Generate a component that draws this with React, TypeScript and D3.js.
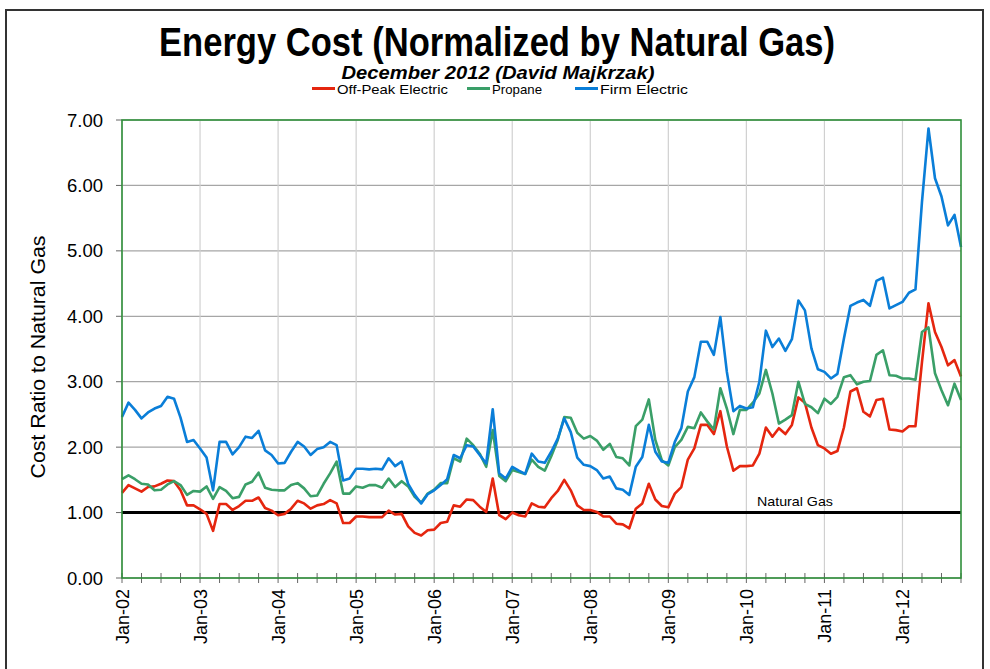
import React from "react";
import * as d3 from "d3";

// monthly ratios, Jan-02 .. Oct-12
const offPeak = [
  1.30, 1.42, 1.37, 1.32, 1.39, 1.40, 1.44, 1.49, 1.48, 1.34, 1.11, 1.11,
  1.05, 0.98, 0.72, 1.13, 1.13, 1.04, 1.10, 1.18, 1.18, 1.23, 1.07, 1.03,
  0.96, 0.98, 1.06, 1.18, 1.14, 1.06, 1.11, 1.13, 1.19, 1.14, 0.84, 0.84,
  0.94, 0.94, 0.93, 0.93, 0.93, 1.03, 0.97, 0.98, 0.79, 0.69, 0.65, 0.73,
  0.74, 0.84, 0.86, 1.11, 1.09, 1.20, 1.19, 1.09, 1.01, 1.52, 0.96, 0.90,
  1.00, 0.96, 0.94, 1.14, 1.09, 1.08, 1.22, 1.33, 1.50, 1.34, 1.11, 1.04,
  1.04, 1.01, 0.94, 0.94, 0.83, 0.82, 0.76, 1.06, 1.14, 1.44, 1.20, 1.10,
  1.08, 1.29, 1.39, 1.81, 1.98, 2.34, 2.34, 2.20, 2.55, 2.01, 1.64, 1.71,
  1.71, 1.72, 1.90, 2.30, 2.16, 2.29, 2.20, 2.34, 2.76, 2.68, 2.30, 2.03,
  1.98, 1.90, 1.94, 2.30, 2.85, 2.90, 2.54, 2.47, 2.72, 2.74, 2.27, 2.26,
  2.24, 2.32, 2.32, 3.30, 4.20, 3.76, 3.53, 3.25, 3.33, 3.08,
];

const propane = [
  1.51, 1.57, 1.51, 1.44, 1.43, 1.34, 1.35, 1.43, 1.48, 1.42, 1.27, 1.33,
  1.32, 1.40, 1.21, 1.39, 1.33, 1.22, 1.24, 1.43, 1.47, 1.61, 1.38, 1.35,
  1.34, 1.34, 1.42, 1.45, 1.37, 1.25, 1.26, 1.44, 1.60, 1.78, 1.29, 1.29,
  1.40, 1.38, 1.42, 1.42, 1.38, 1.52, 1.39, 1.48, 1.40, 1.24, 1.15, 1.29,
  1.35, 1.45, 1.45, 1.83, 1.78, 2.13, 2.03, 1.90, 1.70, 2.26, 1.56, 1.48,
  1.65, 1.62, 1.59, 1.81, 1.70, 1.64, 1.86, 2.11, 2.46, 2.45, 2.22, 2.13,
  2.17, 2.10, 1.96, 2.05, 1.85, 1.83, 1.72, 2.32, 2.42, 2.73, 2.11, 1.80,
  1.72, 2.00, 2.11, 2.31, 2.29, 2.53, 2.39, 2.27, 2.90, 2.59, 2.20, 2.57,
  2.57, 2.68, 2.82, 3.18, 2.82, 2.36, 2.42, 2.49, 3.00, 2.66, 2.61, 2.52,
  2.74, 2.66, 2.77, 3.07, 3.10, 2.96, 3.00, 3.01, 3.41, 3.48, 3.10, 3.09,
  3.05, 3.05, 3.03, 3.76, 3.83, 3.13, 2.87, 2.64, 2.97, 2.72,
];

const firmElectric = [
  2.46, 2.68, 2.57, 2.44, 2.53, 2.59, 2.63, 2.77, 2.74, 2.45, 2.08, 2.11,
  1.98, 1.84, 1.34, 2.08, 2.08, 1.89, 2.00, 2.16, 2.14, 2.25, 1.95, 1.88,
  1.75, 1.76, 1.93, 2.08, 2.01, 1.88, 1.97, 2.00, 2.08, 2.03, 1.49, 1.52,
  1.67, 1.67, 1.66, 1.67, 1.66, 1.83, 1.71, 1.78, 1.44, 1.27, 1.14, 1.28,
  1.34, 1.42, 1.51, 1.88, 1.83, 2.03, 2.01, 1.88, 1.75, 2.58, 1.60, 1.52,
  1.70, 1.64, 1.59, 1.90, 1.78, 1.76, 1.93, 2.13, 2.44, 2.23, 1.84, 1.73,
  1.71, 1.65, 1.52, 1.55, 1.37, 1.35, 1.27, 1.70, 1.85, 2.34, 1.93, 1.78,
  1.76, 2.08, 2.29, 2.85, 3.07, 3.61, 3.61, 3.41, 3.99, 3.15, 2.55, 2.63,
  2.59, 2.61, 3.00, 3.78, 3.53, 3.66, 3.47, 3.65, 4.24, 4.09, 3.51, 3.19,
  3.15, 3.05, 3.12, 3.66, 4.16, 4.21, 4.25, 4.16, 4.54, 4.59, 4.12, 4.17,
  4.22, 4.36, 4.41, 5.75, 6.87, 6.11, 5.83, 5.39, 5.55, 5.06,
];

const yearLabels = ["Jan-02", "Jan-03", "Jan-04", "Jan-05", "Jan-06", "Jan-07",
  "Jan-08", "Jan-09", "Jan-10", "Jan-11", "Jan-12"];
const yTicks = [0, 1, 2, 3, 4, 5, 6, 7];
const naturalGas = 1;

const series = [
  { name: "Off-Peak Electric", values: offPeak, color: "#e5260f", legendX: 312, textW: 111 },
  { name: "Propane", values: propane, color: "#3a9f68", legendX: 467, textW: 50 },
  { name: "Firm Electric", values: firmElectric, color: "#0a7ed8", legendX: 575, textW: 88 },
];

const FONT = "'Liberation Sans', Arial, sans-serif";

function App() {
  const left = 122, right = 961, top = 120, bottom = 578;
  const lastMonth = firmElectric.length - 1;

  const x = d3.scaleLinear().domain([0, lastMonth]).range([left, right]);
  const y = d3.scaleLinear().domain([0, 7]).range([bottom, top]);

  const line = d3.line<number>()
    .x((d, i) => x(i))
    .y(d => y(d));

  const quarterTicks = d3.range(0, lastMonth + 1, 3);

  return (
    <div style={{ position: "absolute", left: 0, top: 0 }}>
      <svg width={990} height={669} style={{ display: "block", background: "#fff" }} fontFamily={FONT}>
        {/* outer frame */}
        <rect x={6} y={10} width={977} height={700} fill="none" stroke="#333" strokeWidth={2} />

        {/* titles */}
        <text x={497} y={56} textAnchor="middle" fontSize={40} fontWeight="bold"
          textLength={676} lengthAdjust="spacingAndGlyphs">
          Energy Cost (Normalized by Natural Gas)
        </text>
        <text x={498} y={79} textAnchor="middle" fontSize={18} fontWeight="bold" fontStyle="italic"
          textLength={313} lengthAdjust="spacingAndGlyphs">
          December 2012 (David Majkrzak)
        </text>

        {/* legend */}
        {series.map(s => (
          <g key={s.name}>
            <line x1={s.legendX} x2={s.legendX + 23} y1={88.5} y2={88.5} stroke={s.color} strokeWidth={3} />
            <text x={s.legendX + 25} y={94} fontSize={13.5} textLength={s.textW} lengthAdjust="spacingAndGlyphs">
              {s.name}
            </text>
          </g>
        ))}

        {/* horizontal gridlines */}
        {yTicks.map(t => (
          <line key={"h" + t} x1={left} x2={right} y1={y(t)} y2={y(t)} stroke="#a6a6a6" strokeWidth={1.2} />
        ))}
        {/* vertical gridlines at each January */}
        {yearLabels.map((_, i) => (
          <line key={"v" + i} x1={x(i * 12)} x2={x(i * 12)} y1={top} y2={bottom} stroke="#d0d0d0" strokeWidth={1.2} />
        ))}

        {/* y ticks and labels */}
        {yTicks.map(t => (
          <g key={"yt" + t}>
            <line x1={left - 6} x2={left} y1={y(t)} y2={y(t)} stroke="#666" strokeWidth={1} />
            <text x={103} y={y(t) + 6.5} textAnchor="end" fontSize={18.5}>{t.toFixed(2)}</text>
          </g>
        ))}

        {/* x ticks (quarterly) */}
        {quarterTicks.map(m => (
          <line key={"xt" + m} x1={x(m)} x2={x(m)} y1={bottom - 5} y2={bottom + 5} stroke="#666" strokeWidth={1} />
        ))}
        {yearLabels.map((lab, i) => (
          <text key={lab} transform={`translate(${x(i * 12) + 6.5},${589}) rotate(-90)`}
            textAnchor="end" fontSize={18}>{lab}</text>
        ))}

        {/* natural gas baseline */}
        <line x1={left} x2={right} y1={y(naturalGas)} y2={y(naturalGas)} stroke="#000" strokeWidth={3} />
        <text x={757} y={y(naturalGas) - 7} fontSize={13} textLength={76} lengthAdjust="spacingAndGlyphs">Natural Gas</text>

        {/* series */}
        {series.map(s => (
          <path key={s.name} d={line(s.values) || ""} fill="none" stroke={s.color}
            strokeWidth={2.6} strokeLinejoin="round" />
        ))}

        {/* plot border */}
        <rect x={left} y={top} width={right - left} height={bottom - top} fill="none" stroke="#2f8f3a" strokeWidth={1.6} />

        {/* y axis title */}
        <text transform={`translate(45,${357}) rotate(-90)`} textAnchor="middle" fontSize={21}
          textLength={243} lengthAdjust="spacingAndGlyphs">
          Cost Ratio to Natural Gas
        </text>
      </svg>
    </div>
  );
}

export default App;
